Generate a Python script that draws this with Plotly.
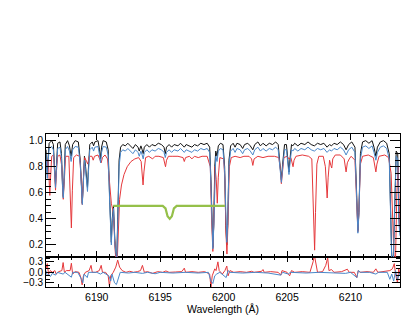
import plotly.graph_objects as go

# ---------------- data ----------------
# black & blue spectra share one wavelength grid
bk_wl = [6186.00, 6186.05, 6186.10, 6186.16, 6186.25, 6186.45, 6186.58, 6186.68, 6186.75, 6186.82,
         6186.92, 6187.10, 6187.22, 6187.30, 6187.36, 6187.43, 6187.52, 6187.70, 6187.85, 6187.98,
         6188.10, 6188.30, 6188.55, 6188.70, 6188.80, 6188.86, 6188.93, 6189.03, 6189.12, 6189.22,
         6189.27, 6189.34, 6189.45, 6189.65, 6189.75, 6189.85, 6190.10, 6190.22, 6190.30, 6190.38,
         6190.50, 6190.75, 6190.90, 6191.02, 6191.10, 6191.15, 6191.22, 6191.32, 6191.42, 6191.50,
         6191.58, 6191.66, 6191.76, 6191.88, 6192.05, 6192.25, 6192.45, 6192.65, 6192.85, 6193.05,
         6193.25, 6193.35, 6193.48, 6193.58, 6193.66, 6193.75, 6193.95, 6194.15, 6194.35, 6194.60,
         6194.85, 6195.10, 6195.30, 6195.40, 6195.50, 6195.70, 6195.90, 6196.10, 6196.40, 6196.60,
         6196.80, 6196.90, 6197.05, 6197.30, 6197.50, 6197.70, 6197.95, 6198.20, 6198.45, 6198.70,
         6198.90, 6199.00, 6199.08, 6199.15, 6199.22, 6199.30, 6199.38, 6199.48, 6199.58, 6199.75,
         6199.95, 6200.08, 6200.17, 6200.25, 6200.32, 6200.42, 6200.55, 6200.75, 6200.90, 6201.05,
         6201.30, 6201.50, 6201.65, 6201.90, 6202.10, 6202.30, 6202.45, 6202.70, 6202.90, 6203.10,
         6203.35, 6203.60, 6203.85, 6204.10, 6204.30, 6204.45, 6204.55, 6204.65, 6204.80, 6204.95,
         6205.07, 6205.15, 6205.23, 6205.35, 6205.45, 6205.60, 6205.85, 6206.10, 6206.40, 6206.65,
         6206.90, 6207.15, 6207.40, 6207.65, 6207.90, 6208.15, 6208.35, 6208.50, 6208.70, 6208.95,
         6209.20, 6209.45, 6209.65, 6209.85, 6210.10, 6210.35, 6210.48, 6210.58, 6210.66, 6210.78,
         6210.95, 6211.20, 6211.45, 6211.70, 6211.85, 6212.00, 6212.12, 6212.35, 6212.60, 6212.85,
         6213.05, 6213.15, 6213.25, 6213.38, 6213.50, 6213.60, 6213.72, 6213.82, 6213.90]

black_flux = [0.93, 0.80, 0.74, 0.86, 0.98, 1.00, 0.97, 0.78, 0.66, 0.80,
              0.98, 0.99, 0.90, 0.66, 0.57, 0.72, 0.97, 1.00, 0.96, 0.88,
              0.97, 1.00, 0.99, 0.85, 0.60, 0.52, 0.66, 0.88, 0.80, 0.66,
              0.64, 0.78, 0.97, 0.99, 0.96, 0.99, 1.00, 0.93, 0.86, 0.95,
              1.00, 0.99, 0.93, 0.55, 0.28, 0.22, 0.40, 0.50, 0.25, 0.11,
              0.10, 0.45, 0.85, 0.95, 0.97, 0.96, 0.98, 0.96, 0.94, 0.97,
              0.95, 0.92, 0.96, 0.93, 0.90, 0.95, 0.97, 0.95, 0.97, 0.96,
              0.98, 0.97, 0.95, 0.90, 0.95, 0.97, 0.95, 0.97, 0.96, 0.98,
              0.96, 0.95, 0.97, 0.96, 0.95, 0.97, 0.96, 0.98, 0.97, 0.98,
              0.95, 0.70, 0.30, 0.18, 0.35, 0.80, 0.92, 0.88, 0.96, 0.98,
              0.97, 0.80, 0.35, 0.20, 0.35, 0.85, 0.96, 0.98, 0.95, 0.98,
              0.97, 0.94, 0.97, 0.98, 0.96, 0.93, 0.97, 0.99, 0.96, 0.98,
              0.96, 0.98, 0.97, 0.99, 0.97, 0.82, 0.70, 0.82, 0.97, 0.97,
              0.85, 0.76, 0.86, 0.97, 0.96, 0.98, 0.96, 0.98, 0.97, 0.99,
              0.97, 0.96, 0.98, 0.97, 0.98, 0.95, 0.97, 0.96, 0.98, 0.97,
              0.99, 0.97, 0.93, 0.97, 0.99, 0.95, 0.60, 0.31, 0.45, 0.90,
              0.99, 1.00, 0.98, 1.00, 0.95, 0.88, 0.95, 0.99, 1.00, 0.98,
              0.90, 0.40, 0.10, 0.12, 0.70, 0.92, 0.90, 0.40, 0.30]

blue_flux = [0.90, 0.77, 0.71, 0.83, 0.94, 0.955, 0.93, 0.76, 0.64, 0.78,
             0.94, 0.95, 0.87, 0.65, 0.56, 0.70, 0.93, 0.955, 0.92, 0.84,
             0.93, 0.955, 0.95, 0.82, 0.58, 0.51, 0.64, 0.85, 0.77, 0.63,
             0.61, 0.75, 0.93, 0.95, 0.92, 0.95, 0.955, 0.89, 0.83, 0.91,
             0.955, 0.95, 0.89, 0.52, 0.25, 0.20, 0.38, 0.48, 0.22, 0.08,
             0.07, 0.40, 0.80, 0.91, 0.93, 0.92, 0.94, 0.92, 0.90, 0.93,
             0.91, 0.88, 0.92, 0.89, 0.86, 0.91, 0.93, 0.91, 0.93, 0.92,
             0.94, 0.93, 0.91, 0.87, 0.91, 0.93, 0.91, 0.93, 0.92, 0.94,
             0.92, 0.91, 0.93, 0.92, 0.91, 0.93, 0.92, 0.94, 0.93, 0.94,
             0.91, 0.66, 0.28, 0.17, 0.33, 0.76, 0.88, 0.84, 0.92, 0.94,
             0.93, 0.76, 0.36, 0.22, 0.36, 0.81, 0.92, 0.94, 0.91, 0.94,
             0.93, 0.90, 0.93, 0.94, 0.92, 0.89, 0.93, 0.95, 0.92, 0.94,
             0.92, 0.94, 0.93, 0.95, 0.93, 0.79, 0.68, 0.79, 0.93, 0.93,
             0.82, 0.74, 0.83, 0.93, 0.92, 0.94, 0.92, 0.94, 0.93, 0.95,
             0.93, 0.92, 0.94, 0.93, 0.94, 0.91, 0.93, 0.92, 0.94, 0.93,
             0.95, 0.93, 0.89, 0.93, 0.95, 0.91, 0.57, 0.29, 0.43, 0.86,
             0.95, 0.96, 0.94, 0.96, 0.91, 0.85, 0.91, 0.95, 0.96, 0.94,
             0.86, 0.36, 0.08, 0.10, 0.66, 0.88, 0.86, 0.36, 0.27]

red_wl = [6186.00, 6186.10, 6186.18, 6186.24, 6186.30, 6186.36, 6186.45, 6186.60, 6186.68, 6186.75,
          6186.82, 6186.92, 6187.10, 6187.25, 6187.36, 6187.45, 6187.55, 6187.80, 6187.92, 6188.00,
          6188.08, 6188.18, 6188.40, 6188.65, 6188.78, 6188.86, 6188.94, 6189.05, 6189.20, 6189.30,
          6189.40, 6189.62, 6189.72, 6189.82, 6190.10, 6190.25, 6190.35, 6190.45, 6190.65, 6190.85,
          6191.00, 6191.15, 6191.30, 6191.42, 6191.52, 6191.60, 6191.70, 6191.80, 6191.95, 6192.15,
          6192.40, 6192.70, 6193.00, 6193.30, 6193.50, 6193.58, 6193.65, 6193.72, 6193.85, 6194.10,
          6194.40, 6194.60, 6194.90, 6195.25, 6195.35, 6195.42, 6195.50, 6195.65, 6196.00, 6196.40,
          6196.80, 6196.90, 6197.00, 6197.30, 6197.50, 6197.70, 6198.00, 6198.30, 6198.70, 6198.95,
          6199.05, 6199.15, 6199.23, 6199.32, 6199.42, 6199.50, 6199.58, 6199.70, 6200.00, 6200.10,
          6200.18, 6200.26, 6200.34, 6200.45, 6200.60, 6200.90, 6201.30, 6201.60, 6202.00, 6202.20,
          6202.30, 6202.40, 6202.70, 6203.10, 6203.50, 6204.00, 6204.35, 6204.47, 6204.55, 6204.63,
          6204.75, 6205.00, 6205.15, 6205.30, 6205.40, 6205.47, 6205.55, 6205.70, 6206.20, 6206.70,
          6206.95, 6207.05, 6207.12, 6207.17, 6207.24, 6207.35, 6207.50, 6207.85, 6208.02, 6208.10,
          6208.16, 6208.24, 6208.35, 6208.45, 6208.52, 6208.60, 6208.80, 6209.20, 6209.50, 6209.65,
          6209.75, 6209.90, 6210.05, 6210.35, 6210.48, 6210.58, 6210.66, 6210.78, 6210.95, 6211.40,
          6211.80, 6211.93, 6212.00, 6212.08, 6212.25, 6212.70, 6213.00, 6213.20, 6213.35, 6213.45,
          6213.55, 6213.65, 6213.75, 6213.85, 6213.90]

red_flux = [0.85, 0.80, 0.86, 0.70, 0.58, 0.72, 0.88, 0.89, 0.76, 0.62,
            0.76, 0.88, 0.89, 0.80, 0.55, 0.75, 0.88, 0.88, 0.60, 0.33,
            0.62, 0.87, 0.89, 0.88, 0.70, 0.51, 0.70, 0.87, 0.84, 0.82,
            0.88, 0.88, 0.85, 0.88, 0.89, 0.86, 0.83, 0.87, 0.89, 0.86,
            0.70, 0.52, 0.45, 0.20, 0.04, 0.04, 0.30, 0.55, 0.66, 0.74,
            0.80, 0.84, 0.86, 0.87, 0.84, 0.74, 0.66, 0.76, 0.87, 0.88,
            0.86, 0.88, 0.88, 0.87, 0.83, 0.80, 0.85, 0.88, 0.88, 0.88,
            0.87, 0.84, 0.87, 0.88, 0.86, 0.88, 0.87, 0.88, 0.88, 0.80,
            0.40, 0.15, 0.40, 0.80, 0.70, 0.52, 0.72, 0.87, 0.86, 0.70,
            0.30, 0.13, 0.35, 0.80, 0.87, 0.88, 0.87, 0.88, 0.88, 0.86,
            0.81, 0.86, 0.88, 0.87, 0.88, 0.88, 0.87, 0.78, 0.67, 0.78,
            0.87, 0.88, 0.86, 0.87, 0.83, 0.80, 0.85, 0.88, 0.89, 0.88,
            0.86, 0.55, 0.20, 0.16, 0.45, 0.82, 0.88, 0.88, 0.80, 0.62,
            0.56, 0.72, 0.85, 0.81, 0.79, 0.86, 0.89, 0.89, 0.86, 0.76,
            0.83, 0.86, 0.88, 0.85, 0.55, 0.30, 0.45, 0.82, 0.88, 0.89,
            0.87, 0.80, 0.76, 0.82, 0.88, 0.89, 0.87, 0.75, 0.30, 0.05,
            0.10, 0.60, 0.80, 0.40, 0.30]

green_wl = [6191.30, 6195.20, 6195.42, 6195.58, 6195.75, 6195.92, 6196.08, 6196.30, 6200.10]
green_flux = [0.50, 0.50, 0.48, 0.42, 0.40, 0.42, 0.48, 0.50, 0.50]

red_res_wl = [6186.00, 6186.10, 6186.20, 6186.35, 6186.50, 6186.70, 6186.80, 6187.00, 6187.25, 6187.35,
              6187.45, 6187.60, 6187.90, 6188.00, 6188.10, 6188.30, 6188.60, 6188.75, 6188.85, 6188.95,
              6189.10, 6189.40, 6189.55, 6189.65, 6189.90, 6190.20, 6190.35, 6190.45, 6190.70, 6190.90,
              6191.00, 6191.10, 6191.30, 6191.50, 6191.65, 6191.80, 6192.00, 6192.30, 6192.60, 6192.90,
              6193.20, 6193.45, 6193.60, 6193.75, 6194.00, 6194.40, 6194.80, 6195.20, 6195.45, 6195.70,
              6196.20, 6196.70, 6196.90, 6197.00, 6197.50, 6198.00, 6198.50, 6198.90, 6199.00, 6199.10,
              6199.30, 6199.40, 6199.55, 6199.65, 6199.90, 6200.10, 6200.25, 6200.35, 6200.50, 6200.80,
              6201.30, 6201.80, 6202.20, 6202.40, 6203.00, 6203.10, 6203.20, 6203.70, 6204.30, 6204.50,
              6204.60, 6205.00, 6205.20, 6205.35, 6205.60, 6206.20, 6206.80, 6207.05, 6207.15, 6207.25,
              6207.40, 6207.80, 6208.05, 6208.20, 6208.30, 6208.50, 6208.70, 6209.30, 6209.75, 6209.90,
              6210.30, 6210.50, 6210.60, 6210.75, 6211.30, 6211.80, 6212.00, 6212.15, 6212.70, 6213.10,
              6213.30, 6213.45, 6213.55, 6213.70, 6213.80, 6213.90]
red_res = [0.10, 0.25, -0.05, 0.05, 0.00, 0.05, -0.05, 0.02, 0.05, 0.28,
           0.00, 0.05, 0.05, 0.26, -0.05, 0.02, 0.00, -0.15, -0.36, -0.10,
           0.00, 0.05, 0.20, 0.00, 0.00, 0.05, 0.20, 0.00, 0.00, -0.10,
           -0.40, -0.10, 0.00, 0.15, 0.35, 0.15, 0.05, 0.00, 0.03, 0.00,
           0.02, 0.05, 0.20, 0.00, 0.02, -0.03, 0.02, 0.00, 0.04, 0.00,
           0.01, 0.02, 0.12, 0.00, 0.02, 0.00, 0.02, -0.05, -0.42, -0.10,
           0.10, 0.05, 0.30, 0.05, -0.05, 0.05, 0.18, -0.10, 0.05, 0.00,
           0.02, 0.00, 0.03, 0.00, 0.03, 0.08, 0.00, 0.02, 0.00, -0.08,
           0.05, 0.00, -0.10, 0.05, 0.00, 0.02, 0.00, 0.30, 0.50, 0.30,
           0.00, 0.02, 0.20, 0.42, 0.05, 0.08, 0.00, 0.02, 0.09, 0.00,
           0.00, -0.15, 0.05, 0.00, 0.02, 0.00, 0.10, 0.00, 0.02, 0.05,
           0.10, 0.25, -0.05, -0.30, 0.10, -0.05]

blue_res_wl = [6186.00, 6186.10, 6186.20, 6186.35, 6186.50, 6186.75, 6186.90, 6187.35, 6187.50, 6188.00,
               6188.10, 6188.50, 6188.80, 6188.90, 6189.00, 6189.25, 6189.35, 6190.00, 6190.30, 6190.50,
               6190.95, 6191.10, 6191.20, 6191.40, 6191.55, 6191.70, 6191.85, 6192.50, 6193.00, 6193.60,
               6194.00, 6194.60, 6195.00, 6196.00, 6197.00, 6198.00, 6198.80, 6199.00, 6199.15, 6199.30,
               6199.45, 6199.70, 6200.20, 6200.35, 6200.50, 6201.50, 6202.50, 6203.50, 6204.50, 6204.65,
               6205.10, 6205.25, 6206.50, 6207.50, 6208.50, 6209.60, 6210.00, 6210.50, 6210.62, 6210.80,
               6211.50, 6212.00, 6212.20, 6212.90, 6213.10, 6213.25, 6213.40, 6213.55, 6213.70, 6213.90]
blue_res = [0.05, -0.10, -0.05, -0.12, -0.03, -0.08, 0.00, -0.05, 0.00, -0.14,
            0.00, 0.00, -0.20, -0.30, -0.05, -0.15, 0.00, 0.00, -0.05, 0.00,
            -0.10, -0.25, -0.05, -0.30, -0.35, -0.15, 0.00, -0.02, 0.00, -0.03,
            0.00, -0.04, 0.00, -0.02, 0.00, -0.02, 0.00, -0.25, -0.32, -0.10,
            -0.05, 0.00, -0.15, 0.05, 0.00, -0.02, 0.00, -0.02, -0.08, 0.00,
            -0.05, 0.00, -0.02, 0.00, -0.02, -0.03, 0.00, -0.15, 0.05, 0.00,
            0.00, -0.05, 0.00, 0.00, -0.20, -0.05, -0.25, 0.05, -0.20, 0.00]

x_range = [6186.0, 6213.9]
main_ticks = [0.2, 0.4, 0.6, 0.8, 1.0]
res_ticks = [-0.3, 0.0, 0.3]
res_labels = ["\u22120.3", "0.0", "0.3"]
x_ticks = [6190, 6195, 6200, 6205, 6210]

# ---------------- styling ----------------
BLACK = "#111111"
BLUE = "#4a87c9"
RED = "#e5383b"
GREEN = "#95c04a"
FONT = "Liberation Sans, Arial, sans-serif"

fig = go.Figure()
fig.add_trace(go.Scatter(x=bk_wl, y=black_flux, mode="lines", line=dict(color=BLACK, width=1), xaxis="x2", yaxis="y"))
fig.add_trace(go.Scatter(x=red_wl, y=red_flux, mode="lines", line=dict(color=RED, width=1), xaxis="x2", yaxis="y"))
fig.add_trace(go.Scatter(x=bk_wl, y=blue_flux, mode="lines", line=dict(color=BLUE, width=1), xaxis="x2", yaxis="y"))
fig.add_trace(go.Scatter(x=green_wl, y=green_flux, mode="lines", line=dict(color=GREEN, width=2.2), xaxis="x2", yaxis="y"))
fig.add_trace(go.Scatter(x=red_res_wl, y=red_res, mode="lines", line=dict(color=RED, width=1), xaxis="x", yaxis="y2"))
fig.add_trace(go.Scatter(x=blue_res_wl, y=blue_res, mode="lines", line=dict(color=BLUE, width=1), xaxis="x", yaxis="y2"))

split = 0.194
axis_common = dict(showline=True, linecolor="black", linewidth=1, ticks="inside",
                   tickcolor="black", showgrid=False, zeroline=False, mirror="allticks")
xfont = dict(family=FONT, size=10.5, color="black")
yfont = dict(family=FONT, size=10, color="black")

fig.update_layout(
    width=407, height=315,
    margin=dict(l=46, r=7, t=134, b=28),
    paper_bgcolor="white", plot_bgcolor="white",
    showlegend=False,
    font=dict(family=FONT, size=10.5, color="black"),
    xaxis=dict(range=x_range, domain=[0, 1], anchor="y2", tickvals=x_ticks,
               ticklen=5, tickwidth=1, tickfont=xfont, automargin=False,
               minor=dict(dtick=1, tick0=6186, ticks="inside", ticklen=3, tickcolor="black"),
               title=dict(text="Wavelength (\u00c5)", standoff=2, font=xfont),
               **axis_common),
    xaxis2=dict(range=x_range, domain=[0, 1], anchor="y", matches="x", tickvals=x_ticks,
                showticklabels=False, ticklen=6, tickwidth=1,
                minor=dict(dtick=1, tick0=6186, ticks="inside", ticklen=3, tickcolor="black"),
                **axis_common),
    yaxis=dict(range=[0.105, 1.051], domain=[split, 1], anchor="x2", tickvals=main_ticks,
               ticktext=["0.2", "0.4", "0.6", "0.8", "1.0"], ticklen=10, tickwidth=1,
               tickfont=yfont, automargin=False,
               minor=dict(dtick=0.05, tick0=0, ticks="inside", ticklen=5, tickcolor="black"),
               **axis_common),
    yaxis2=dict(range=[-0.42, 0.43], domain=[0, split], anchor="x", tickvals=res_ticks,
                ticktext=res_labels, ticklen=8, tickwidth=1, tickfont=yfont, automargin=False,
                minor=dict(dtick=0.1, tick0=0, ticks="inside", ticklen=4, tickcolor="black"),
                **axis_common),
)

fig.write_html("out.html", config={"displayModeBar": False})

# remove the default page margin so the figure sits at the window's top-left corner
with open("out.html", "r", encoding="utf-8") as f:
    html = f.read()
html = html.replace("<head>", "<head><style>html,body{margin:0;padding:0;overflow:hidden;}</style>", 1)
with open("out.html", "w", encoding="utf-8") as f:
    f.write(html)
